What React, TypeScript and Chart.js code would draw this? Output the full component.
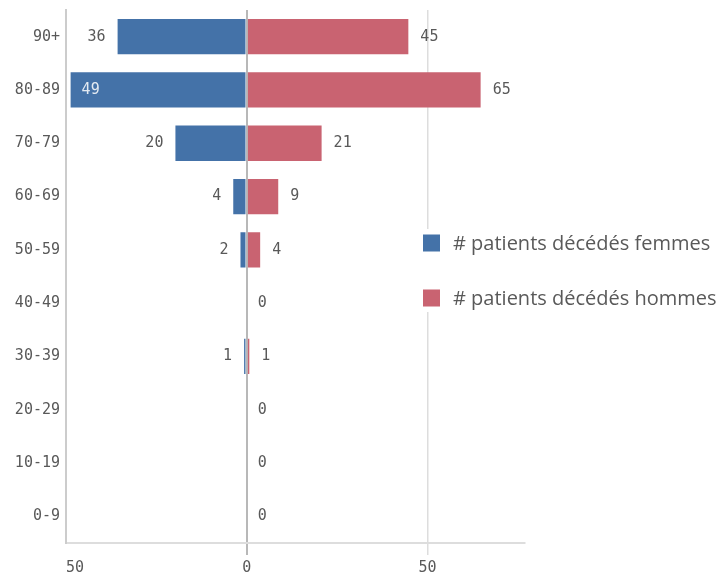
import React, { useEffect, useRef } from "react";
import { Chart, registerables } from "chart.js";

Chart.register(...registerables);

const categories = ["90+", "80-89", "70-79", "60-69", "50-59", "40-49", "30-39", "20-29", "10-19", "0-9"];
const femmes = [36, 49, 20, 4, 2, 0, 1, 0, 0, 0];
const hommes = [45, 65, 21, 9, 4, 0, 1, 0, 0, 0];
const xTicks = [-50, 0, 50, 77];
const seriesNames = ["# patients décédés femmes", "# patients décédés hommes"];

const BLUE = "#4472a8";
const RED = "#c96371";
const MONO = "'DejaVu Sans Mono', monospace";
const SANS = "'Open Sans', sans-serif";

const valueLabels = {
  id: "valueLabels",
  afterDatasetsDraw(chart: any) {
    const ctx = chart.ctx;
    const area = chart.chartArea;
    ctx.save();
    ctx.font = `15px ${MONO}`;
    ctx.textBaseline = "middle";
    chart.data.datasets.forEach((ds: any, di: number) => {
      const meta = chart.getDatasetMeta(di);
      meta.data.forEach((el: any, i: number) => {
        const v = Math.abs(ds.data[i]);
        const txt = String(v);
        const w = ctx.measureText(txt).width;
        if (di === 0) {
          if (v === 0) return;
          const xr = el.x - 11;
          if (xr - w < area.left) {
            ctx.fillStyle = "rgba(255,255,255,0.85)";
            ctx.textAlign = "left";
            ctx.fillText(txt, el.x + 12, el.y);
          } else {
            ctx.fillStyle = "#595959";
            ctx.textAlign = "right";
            ctx.fillText(txt, xr, el.y);
          }
        } else {
          ctx.fillStyle = "#595959";
          ctx.textAlign = "left";
          ctx.fillText(txt, el.x + 11, el.y);
        }
      });
    });
    ctx.restore();
  },
};

const overlayLegend = {
  id: "overlayLegend",
  afterDraw(chart: any) {
    const ctx = chart.ctx;
    const x0 = 423;
    const ys = [243, 298];
    ctx.save();
    ctx.fillStyle = "#ffffff";
    ctx.fillRect(x0 - 8, ys[0] - 14, chart.width - x0 + 8, ys[1] - ys[0] + 28);
    ctx.font = `20px ${SANS}`;
    ctx.textBaseline = "middle";
    ctx.textAlign = "left";
    chart.data.datasets.forEach((ds: any, i: number) => {
      ctx.fillStyle = ds.backgroundColor;
      ctx.fillRect(x0, ys[i] - 8.5, 17, 17);
      ctx.fillStyle = "#595959";
      ctx.fillText(ds.label, x0 + 30, ys[i] + 1);
    });
    ctx.restore();
  },
};

export default function App() {
  const ref = useRef<HTMLCanvasElement>(null);
  useEffect(() => {
    if (!ref.current) return;
    const chart = new Chart(ref.current, {
      type: "bar",
      data: {
        labels: categories,
        datasets: [
          {
            label: seriesNames[0],
            data: femmes.map((v) => -v),
            backgroundColor: BLUE,
            borderColor: "rgba(255,255,255,0.25)",
            borderWidth: 1,
            categoryPercentage: 0.7,
            barPercentage: 1,
          },
          {
            label: seriesNames[1],
            data: hommes,
            backgroundColor: RED,
            borderColor: "rgba(255,255,255,0.25)",
            borderWidth: 1,
            categoryPercentage: 0.7,
            barPercentage: 1,
          },
        ],
      },
      options: {
        indexAxis: "y",
        responsive: false,
        animation: false,
        devicePixelRatio: 1,
        layout: { padding: { top: 10, right: 197, left: 0, bottom: 0 } },
        plugins: {
          legend: { display: false },
          tooltip: { enabled: false },
        },
        scales: {
          x: {
            type: "linear",
            stacked: true,
            min: -50,
            max: 77,
            afterBuildTicks: (scale: any) => {
              scale.ticks = xTicks.map((v) => ({ value: v }));
            },
            afterFit: (scale: any) => {
              scale.height = 33;
              scale.paddingLeft = 0;
              scale.paddingRight = 0;
            },
            ticks: {
              align: "inner",
              padding: 4,
              color: "#595959",
              font: { family: MONO, size: 15 },
              callback: (v: any) => (Number(v) % 50 === 0 ? String(Math.abs(Number(v))) : ""),
            },
            grid: {
              color: (c: any) => (c.tick && c.tick.value === 0 ? "#b8b8b8" : c.tick && c.tick.value === 77 ? "rgba(0,0,0,0)" : "#dddddd"),
              lineWidth: (c: any) => (c.tick && c.tick.value === 0 ? 2 : 1.5),
              tickColor: (c: any) => (c.tick && (c.tick.value === 0 || c.tick.value === 50) ? (c.tick.value === 0 ? "#b8b8b8" : "#dddddd") : "rgba(0,0,0,0)"),
              tickLength: 12,
            },
            border: { display: true, color: "#dddddd", width: 2 },
          },
          y: {
            type: "category",
            stacked: true,
            afterFit: (scale: any) => {
              scale.width = 66;
              scale.paddingTop = 0;
              scale.paddingBottom = 0;
            },
            ticks: {
              padding: 6,
              color: "#595959",
              font: { family: MONO, size: 15 },
            },
            grid: { display: false, drawTicks: false },
            border: { display: true, color: "#cccccc", width: 2 },
          },
        },
      },
      plugins: [valueLabels, overlayLegend],
    } as any);
    return () => chart.destroy();
  }, []);
  return (
    <div style={{ position: "fixed", left: 0, top: 0, width: 722, height: 576, background: "#fff" }}>
      <canvas ref={ref} width={722} height={576} style={{ width: 722, height: 576, display: "block" }} />
    </div>
  );
}
